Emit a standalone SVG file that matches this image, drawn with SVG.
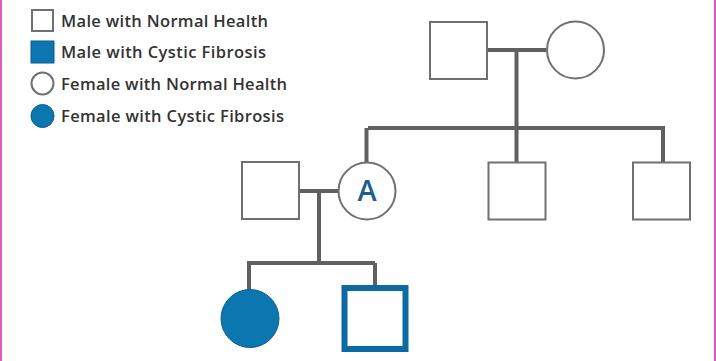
<svg xmlns="http://www.w3.org/2000/svg" width="716" height="361" viewBox="0 0 716 361">
<style>
.shape{fill:#fff;stroke:#707070;stroke-width:2}
.cf{fill:#0b76b0;stroke:#0a5f8f;stroke-width:1}
.conn{stroke:#606060;stroke-width:4;fill:none;stroke-linecap:butt}
.leg{font-family:"Open Sans","Liberation Sans",sans-serif;font-size:16.5px;font-weight:600;fill:#333}
.lab{font-family:"Open Sans","Liberation Sans",sans-serif;font-size:29px;font-weight:600;fill:#1b5f8f}
</style>
<rect x="0" y="0" width="716" height="361" fill="#fff"/>
<rect x="0" y="0" width="2" height="361" fill="#d95fbd"/>
<rect x="714" y="0" width="2" height="361" fill="#d95fbd"/>
<g id="legend">
<rect class="shape" x="32" y="10" width="21" height="21"/>
<text class="leg" x="61" y="27" textLength="207" lengthAdjust="spacing">Male with Normal Health</text>
<rect class="cf" x="31" y="41" width="23" height="22"/>
<text class="leg" x="61" y="58" textLength="205" lengthAdjust="spacing">Male with Cystic Fibrosis</text>
<circle class="shape" cx="42.5" cy="83.5" r="11"/>
<text class="leg" x="61" y="90" textLength="226" lengthAdjust="spacing">Female with Normal Health</text>
<circle class="cf" cx="42.5" cy="116" r="11.5"/>
<text class="leg" x="61" y="122" textLength="223" lengthAdjust="spacing">Female with Cystic Fibrosis</text>
</g>
<g id="connectors">
<path class="conn" d="M487 50H546M516.5 50V128M368 128H663M366.5 128V162M516.5 128V162M663 126V162"/>
<path class="conn" d="M299 191H338M319 191V263M247 263H375M249 261V290M375 263V286"/>
</g>
<g id="grandfather"><rect class="shape" x="430" y="22" width="57" height="57"/></g>
<g id="grandmother"><circle class="shape" cx="575.5" cy="50" r="28.5"/></g>
<g id="father"><rect class="shape" x="242" y="162" width="57" height="57"/></g>
<g id="motherA"><circle class="shape" cx="367" cy="191" r="28.5"/><text class="lab" x="367" y="201" text-anchor="middle">A</text></g>
<g id="uncle1"><rect class="shape" x="488.5" y="162.5" width="57" height="57"/></g>
<g id="uncle2"><rect class="shape" x="633" y="162.5" width="57" height="57"/></g>
<g id="daughter"><circle class="cf" cx="250" cy="318.5" r="29"/></g>
<g id="son"><rect x="344.5" y="288" width="61" height="61" fill="#fff" stroke="#0b6aa3" stroke-width="6"/></g>
</svg>
